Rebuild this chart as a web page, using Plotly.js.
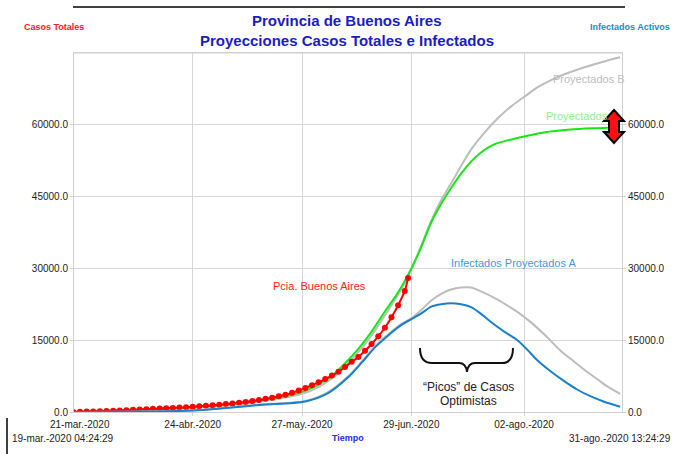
<!DOCTYPE html>
<html>
<head>
<meta charset="utf-8">
<script src="https://cdn.plot.ly/plotly-3.0.1.min.js"></script>
<style>html,body{margin:0;padding:0;background:#fff;}#chart{width:674px;height:454px;}</style>
</head>
<body>
<div id="chart"></div>
<script>
// ---- Data ----
const casosDates = ['2020-03-19','2020-03-21','2020-03-23','2020-03-25','2020-03-27','2020-03-29','2020-03-31','2020-04-02','2020-04-04','2020-04-06','2020-04-08','2020-04-10','2020-04-12','2020-04-14','2020-04-16','2020-04-18','2020-04-20','2020-04-22','2020-04-24','2020-04-26','2020-04-28','2020-04-30','2020-05-02','2020-05-04','2020-05-06','2020-05-08','2020-05-10','2020-05-12','2020-05-14','2020-05-16','2020-05-18','2020-05-20','2020-05-22','2020-05-24','2020-05-26','2020-05-28','2020-05-30','2020-06-01','2020-06-03','2020-06-05','2020-06-07','2020-06-09','2020-06-11','2020-06-13','2020-06-15','2020-06-17','2020-06-19','2020-06-21','2020-06-23','2020-06-25','2020-06-27','2020-06-28'];
const casosPBA = [30,50,80,120,160,200,260,320,380,450,520,600,660,720,800,860,920,1000,1080,1180,1280,1400,1520,1650,1800,1950,2100,2300,2500,2750,3000,3300,3600,4000,4500,5000,5600,6200,6900,7600,8400,9400,10500,11500,12800,14200,15800,17600,19800,22300,25300,28000];

const projADates = ['2020-03-19','2020-04-05','2020-04-24','2020-05-10','2020-05-20','2020-05-28','2020-06-04','2020-06-08','2020-06-13','2020-06-17','2020-06-21','2020-06-25','2020-06-29','2020-07-02','2020-07-05','2020-07-08','2020-07-11','2020-07-14','2020-07-17','2020-07-20','2020-07-24','2020-08-01','2020-08-08','2020-08-16','2020-08-24','2020-08-31'];
const proyectadosA = [0,450,1000,2000,3000,4400,7000,9500,13200,16800,21000,25000,30000,34500,39600,43500,46800,49800,52300,54200,55900,57400,58400,59000,59300,59500];

const projBDates = ['2020-03-19','2020-04-24','2020-05-10','2020-05-28','2020-06-04','2020-06-08','2020-06-13','2020-06-17','2020-06-21','2020-06-25','2020-06-29','2020-07-02','2020-07-05','2020-07-08','2020-07-11','2020-07-14','2020-07-17','2020-07-21','2020-07-25','2020-07-29','2020-08-02','2020-08-06','2020-08-10','2020-08-14','2020-08-18','2020-08-23','2020-08-27','2020-08-31'];
const proyectadosB = [0,900,1800,4000,6500,8900,12500,16000,20200,24500,29800,34800,40000,44300,47800,51400,54800,58300,61300,63800,65800,67800,69300,70500,71500,72600,73400,74100];

const infADates = ['2020-03-19','2020-04-10','2020-04-24','2020-05-05','2020-05-15','2020-05-28','2020-06-04','2020-06-10','2020-06-14','2020-06-18','2020-06-22','2020-06-26','2020-06-29','2020-07-02','2020-07-05','2020-07-08','2020-07-11','2020-07-14','2020-07-17','2020-07-20','2020-07-23','2020-07-27','2020-07-31','2020-08-03','2020-08-06','2020-08-10','2020-08-14','2020-08-18','2020-08-22','2020-08-26','2020-08-31'];
const infectadosA = [0,100,300,900,1500,2200,4000,7300,10300,13500,16000,18200,19400,20600,22000,22500,22700,22500,21900,20500,18800,16800,15000,13000,10800,8500,6500,4700,3300,2200,1100];

const infBDates = ['2020-03-19','2020-04-24','2020-05-15','2020-05-28','2020-06-04','2020-06-10','2020-06-14','2020-06-18','2020-06-22','2020-06-26','2020-06-29','2020-07-02','2020-07-05','2020-07-08','2020-07-11','2020-07-14','2020-07-17','2020-07-20','2020-07-25','2020-07-29','2020-08-01','2020-08-05','2020-08-09','2020-08-13','2020-08-17','2020-08-21','2020-08-24','2020-08-27','2020-08-31'];
const infectadosB = [0,350,1600,2300,4200,7500,10500,13700,16200,18400,19600,21300,23300,24700,25600,26000,26000,25200,23500,21800,20400,18200,15600,12800,10600,8400,6900,5400,3800];

const xTickVals = ['2020-04-24','2020-05-27','2020-06-29','2020-08-02'];
const xTickText = ['24-abr.-2020','27-may.-2020','29-jun.-2020','02-ago.-2020'];
const yTickVals = [0,15000,30000,45000,60000];
const yTickText = ['0.0','15000.0','30000.0','45000.0','60000.0'];

// ---- Layout helpers (pixel -> paper) ----
const L=74, R=622, T=53, B=412;
const px = x => (x-L)/(R-L);
const py = y => (B-y)/(B-T);
function pathFrom(cmds){
  return cmds.map(c => {
    if (typeof c === 'string') return c;
    return px(c[0]).toFixed(5)+','+py(c[1]).toFixed(5);
  }).join(' ');
}

const FONT = 'Liberation Sans, Arial, sans-serif';
const smooth = {shape:'spline', smoothing:0.8};
const traces = [
  {x: infBDates, y: infectadosB, type:'scatter', mode:'lines', yaxis:'y2', line:Object.assign({color:'#bdbdbd', width:2}, smooth), name:'Infectados B'},
  {x: projBDates, y: proyectadosB, type:'scatter', mode:'lines', line:Object.assign({color:'#bdbdbd', width:2}, smooth), name:'Proyectados B'},
  {x: infADates, y: infectadosA, type:'scatter', mode:'lines', yaxis:'y2', line:Object.assign({color:'#1a80c8', width:2}, smooth), name:'Infectados Proyectados A'},
  {x: projADates, y: proyectadosA, type:'scatter', mode:'lines', line:Object.assign({color:'#16e616', width:2}, smooth), name:'Proyectados'},
  {x: casosDates, y: casosPBA, type:'scatter', mode:'lines+markers', line:Object.assign({color:'#ff0000', width:2}, smooth), marker:{color:'#ff0000', size:6}, name:'Pcia. Buenos Aires'}
];

const axisCommon = {
  showgrid:true, gridcolor:'#d6d6d6', gridwidth:1,
  showline:true, linecolor:'#cfcfcf', linewidth:1,
  ticks:'outside', ticklen:3, tickcolor:'#cfcfcf',
  tickfont:{family:FONT, size:10, color:'#222'},
  zeroline:false, fixedrange:true
};

const ann = (text, x, y, opts) => Object.assign({
  text, xref:'paper', yref:'paper', x:px(x), y:py(y), showarrow:false,
  xanchor:'center', yanchor:'middle', font:{family:FONT, size:11, color:'#222'}
}, opts||{});

const annotations = [
  ann('<b>Provincia de Buenos Aires</b>', 347, 20, {font:{family:FONT, size:15, color:'#1c1cc4'}}),
  ann('<b>Proyecciones Casos Totales e Infectados</b>', 347, 40, {font:{family:FONT, size:15, color:'#1c1cc4'}}),
  ann('<b>Casos Totales</b>', 22, 27, {xanchor:'left', font:{family:FONT, size:9, color:'#ff1a1a'}}),
  ann('<b>Infectados Activos</b>', 672, 27, {xanchor:'right', font:{family:FONT, size:9, color:'#1a8ad0'}}),
  ann('<b>Tiempo</b>', 348, 438, {font:{family:FONT, size:9, color:'#2a2ae6'}}),
  ann('19-mar.-2020 04:24:29', 10, 438, {xanchor:'left', font:{family:FONT, size:10, color:'#222'}}),
  ann('31-ago.-2020 13:24:29', 673, 438, {xanchor:'right', font:{family:FONT, size:10, color:'#222'}}),
  {text:'21-mar.-2020', xref:'x', yref:'paper', x:'2020-03-21', y:py(424), showarrow:false, xanchor:'center', yanchor:'middle', font:{family:FONT, size:10, color:'#222'}},
  ann('Pcia. Buenos Aires', 319, 286, {font:{family:FONT, size:11, color:'#ff1a1a'}}),
  ann('Infectados Proyectados A', 513, 263, {font:{family:FONT, size:11, color:'#3a9ae0'}}),
  ann('Proyectados B', 551, 79, {xanchor:'left', font:{family:FONT, size:11, color:'#bdbdbd'}}),
  ann('Proyectados', 544, 116, {xanchor:'left', font:{family:FONT, size:11, color:'#8ef08e'}}),
  ann('\u201cPicos\u201d de Casos', 468, 387, {font:{family:FONT, size:12, color:'#222'}}),
  ann('Optimistas', 468, 401, {font:{family:FONT, size:12, color:'#222'}})
];

const bracePath = pathFrom(['M',[420,348],'Q',[420,363],[432,363],'L',[459,363],'Q',[466,363],[467,372],'Q',[468,363],[475,363],'L',[502,363],'Q',[513,363],[513,348]]);
const arrowPath = pathFrom(['M',[614,110],'L',[624,121],'L',[619,121],'L',[619,132],'L',[624,132],'L',[614,143],'L',[604,132],'L',[609,132],'L',[609,121],'L',[604,121],'Z']);

const shapes = [
  {type:'line', xref:'paper', yref:'paper', x0:px(73), x1:px(625), y0:py(7), y1:py(7), line:{color:'#000', width:1.5}},
  {type:'line', xref:'paper', yref:'paper', x0:px(7), x1:px(7), y0:py(418), y1:py(454), line:{color:'#000', width:1.5}},
  {type:'line', xref:'paper', yref:'paper', x0:0, x1:1, y0:1, y1:1, line:{color:'#cfcfcf', width:1}},
  {type:'path', xref:'paper', yref:'paper', path:bracePath, line:{color:'#111', width:2}},
  {type:'path', xref:'paper', yref:'paper', path:arrowPath, fillcolor:'#ff1010', line:{color:'#000', width:2}}
];

const layout = {
  width:674, height:454,
  margin:{l:L, r:674-R, t:T, b:454-B, pad:0},
  paper_bgcolor:'#fff', plot_bgcolor:'#fff',
  showlegend:false,
  font:{family:FONT, size:10, color:'#222'},
  xaxis: Object.assign({}, axisCommon, {
    type:'date', range:['2020-03-19 04:24:29','2020-08-31 13:24:29'],
    tickmode:'array', tickvals:xTickVals, ticktext:xTickText, mirror:true
  }),
  yaxis: Object.assign({}, axisCommon, {
    range:[0,75000], tickmode:'array', tickvals:yTickVals, ticktext:yTickText
  }),
  yaxis2: Object.assign({}, axisCommon, {
    overlaying:'y', side:'right', showgrid:false,
    range:[0,75000], tickmode:'array', tickvals:yTickVals, ticktext:yTickText
  }),
  annotations, shapes
};

Plotly.newPlot('chart', traces, layout, {staticPlot:true, displayModeBar:false});
</script>
</body>
</html>
